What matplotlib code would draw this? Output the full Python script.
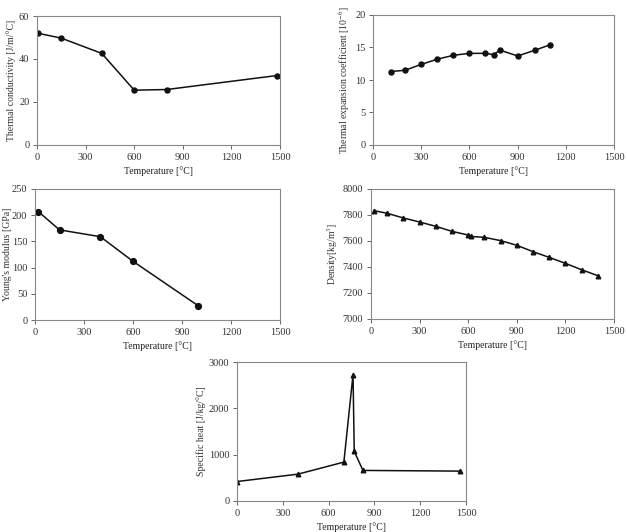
import matplotlib
matplotlib.use("Agg")
import matplotlib.pyplot as plt

plt.rcParams['font.family'] = ['Liberation Serif', 'DejaVu Serif']
plt.rcParams['mathtext.fontset'] = 'stix'

# Thermal conductivity
tc_T = [5, 150, 400, 600, 800, 1480]
tc_v = [52.0, 49.7, 42.6, 25.5, 25.8, 32.3]
# Thermal expansion coefficient
te_T = [110, 200, 300, 400, 500, 600, 700, 750, 790, 900, 1010, 1100]
te_v = [11.3, 11.5, 12.4, 13.2, 13.8, 14.1, 14.1, 13.9, 14.6, 13.7, 14.6, 15.4]
# Young's modulus
ym_T = [20, 150, 400, 600, 1000]
ym_v = [207, 172, 159, 112, 27]
# Density
de_T = [20, 100, 200, 300, 400, 500, 600, 620, 700, 800, 900, 1000, 1100, 1200, 1300, 1400]
de_v = [7833, 7813, 7777, 7746, 7713, 7674, 7646, 7635, 7628, 7603, 7567, 7518, 7474, 7428, 7379, 7333]
# Specific heat
sh_T = [0, 400, 700, 760, 768, 825, 1460]
sh_v = [420, 580, 840, 2730, 1070, 660, 645]

xticks = [0, 300, 600, 900, 1200, 1500]

W, H = 627, 532
fig = plt.figure(figsize=(W / 100, H / 100), dpi=100)

def make_ax(l, r, t, b):
    return fig.add_axes([l / W, 1 - b / H, (r - l) / W, (b - t) / H])

def style(ax, ylim, yticks, ylabel):
    ax.set_xlim(0, 1500)
    ax.set_xticks(xticks)
    ax.set_ylim(*ylim)
    ax.set_yticks(yticks)
    for s in ax.spines.values():
        s.set_color('#888888')
        s.set_linewidth(0.8)
    ax.tick_params(direction='out', length=3, width=0.7, color='#666666',
                   labelsize=7.5, labelcolor='#333333', pad=2.5)
    ax.set_xlabel('Temperature [°C]', fontsize=7, color='#222222', labelpad=3)
    ax.set_ylabel(ylabel, fontsize=7, color='#333333', labelpad=2)

lk = dict(color='#111111', linewidth=1.1)

ax1 = make_ax(37, 280, 16, 145)
ax1.plot(tc_T, tc_v, marker='o', markersize=3.6, **lk)
style(ax1, (0, 60), [0, 20, 40, 60], 'Thermal conductivity [J/m/°C]')

ax2 = make_ax(373, 614, 15, 145)
ax2.plot(te_T, te_v, marker='o', markersize=3.6, **lk)
style(ax2, (0, 20), [0, 5, 10, 15, 20], 'Thermal expansion coefficient [10$^{-6}$]')

ax3 = make_ax(35, 280, 189, 320)
ax3.plot(ym_T, ym_v, marker='o', markersize=4.2, **lk)
style(ax3, (0, 250), [0, 50, 100, 150, 200, 250], "Young's modulus [GPa]")
ax3.yaxis.set_label_coords(-23 / 245, 0.5)

ax4 = make_ax(371, 614, 189, 319)
ax4.plot(de_T, de_v, marker='^', markersize=3.3, **lk)
style(ax4, (7000, 8000), [7000, 7200, 7400, 7600, 7800, 8000], 'Density[kg/m$^3$]')

ax5 = make_ax(237, 466, 362, 501)
ax5.plot(sh_T, sh_v, marker='^', markersize=3.3, **lk)
style(ax5, (0, 3000), [0, 1000, 2000, 3000], 'Specific heat [J/kg/°C]')

fig.savefig('out.png', dpi=100, facecolor='white')
